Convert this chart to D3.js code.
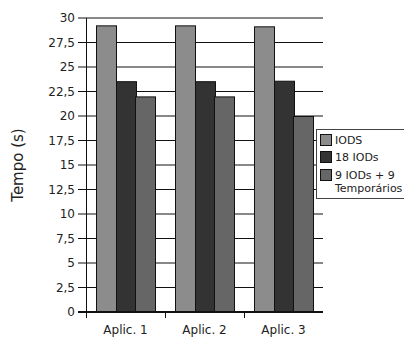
<!DOCTYPE html>
<html><head><meta charset="utf-8">
<script src="https://cdn.jsdelivr.net/npm/d3@7"></script>
<style>body{margin:0;background:#fff}svg{display:block}text{font-family:"DejaVu Sans",sans-serif}</style>
</head><body>
<script>
const categories = ["Aplic. 1", "Aplic. 2", "Aplic. 3"];
const seriesNames = ["IODS", "18 IODs", "9 IODs + 9 Temporários"];
const iods = [29.25, 29.25, 29.15];
const iods18 = [23.55, 23.55, 23.6];
const iods9tmp = [22.0, 22.0, 20.0];
const yTicks = [0, 2.5, 5, 7.5, 10, 12.5, 15, 17.5, 20, 22.5, 25, 27.5, 30];
const colors = ["#8c8c8c", "#333333", "#666666"];
const series = [iods, iods18, iods9tmp];

const W = 404, H = 340;
const svg = d3.select("body").append("svg").attr("width", W).attr("height", H);
const x0 = d3.scaleBand().domain(categories).range([86, 323]).paddingInner(0).paddingOuter(0);
const x1 = d3.scaleBand().domain(d3.range(3)).range([0, x0.bandwidth()]).paddingInner(0).paddingOuter(0.5);
const y = d3.scaleLinear().domain([0, 30]).range([312, 18]);

// gridlines
svg.append("g").selectAll("line").data(yTicks.filter(d => d > 0)).join("line")
  .attr("x1", 78).attr("x2", 323).attr("y1", d => y(d)).attr("y2", d => y(d))
  .attr("stroke", "#111").attr("stroke-width", 1);

// bars
categories.forEach((c, i) => {
  series.forEach((s, j) => {
    svg.append("rect")
      .attr("x", Math.round(x0(c) + x1(j)) + 0.5).attr("y", y(s[i]) + 0.5)
      .attr("width", Math.round(x1.bandwidth())).attr("height", y(0) - y(s[i]))
      .attr("fill", colors[j]).attr("stroke", "#111").attr("stroke-width", 1);
  });
});

// y axis line
svg.append("line").attr("x1", 86.5).attr("x2", 86.5).attr("y1", 18).attr("y2", 318).attr("stroke", "#111");
// zero line
svg.append("line").attr("x1", 78).attr("x2", 323).attr("y1", 312).attr("y2", 312).attr("stroke", "#111").attr("stroke-width", 2);
// category ticks
svg.append("g").selectAll("line").data(categories.slice(1)).join("line")
  .attr("x1", d => x0(d) + 0.5).attr("x2", d => x0(d) + 0.5).attr("y1", 312).attr("y2", 318).attr("stroke", "#111");

// y tick labels
svg.append("g").selectAll("text").data(yTicks).join("text")
  .attr("x", 75).attr("y", d => y(d)).attr("dy", "0.35em").attr("text-anchor", "end")
  .attr("font-size", 12).attr("fill", "#222")
  .text(d => String(d).replace(".", ","));

// x labels
svg.append("g").selectAll("text").data(categories).join("text")
  .attr("x", d => x0(d) + x0.bandwidth() / 2).attr("y", 334).attr("text-anchor", "middle")
  .attr("font-size", 12).attr("fill", "#222").text(d => d);

// y title
svg.append("text").attr("transform", "translate(23,165) rotate(-90)").attr("text-anchor", "middle")
  .attr("font-size", 15).attr("fill", "#222").text("Tempo (s)");

// legend
const lg = svg.append("g");
lg.append("rect").attr("x", 316.5).attr("y", 129.5).attr("width", 100).attr("height", 69)
  .attr("fill", "#fff").attr("stroke", "#444");
const rows = [140, 157, 175];
seriesNames.forEach((n, j) => {
  lg.append("rect").attr("x", 320.5).attr("y", rows[j] - 5.5).attr("width", 11).attr("height", 11)
    .attr("fill", colors[j]).attr("stroke", "#111");
  const t = lg.append("text").attr("x", 335).attr("y", rows[j]).attr("dy", "0.36em")
    .attr("font-size", 11).attr("fill", "#222");
  if (j === 2) {
    t.text("9 IODs + 9");
    lg.append("text").attr("x", 335).attr("y", rows[j] + 14).attr("dy", "0.3em")
      .attr("font-size", 11).attr("fill", "#222").text("Temporários");
  } else t.text(n);
});
</script>
</body></html>
